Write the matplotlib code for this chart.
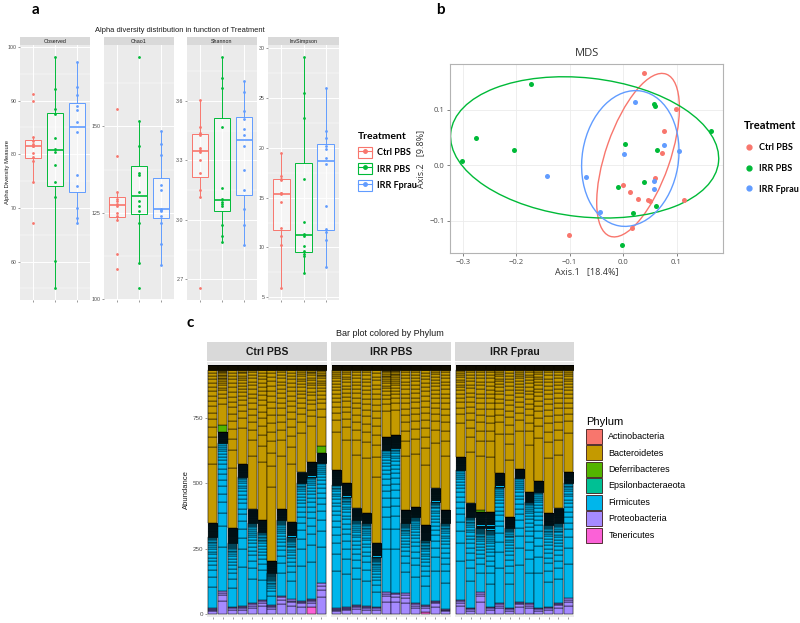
import numpy as np
import matplotlib
matplotlib.use("Agg")
import matplotlib.pyplot as plt
from matplotlib.patches import Ellipse, Rectangle, Patch
from matplotlib.lines import Line2D
from matplotlib.legend_handler import HandlerTuple
from matplotlib.ticker import AutoMinorLocator

plt.rcParams["font.family"] = ["Liberation Sans", "DejaVu Sans"]

GROUPS = ["Ctrl PBS", "IRR PBS", "IRR Fprau"]
GROUP_COLORS = ["#F8766D", "#00BA38", "#619CFF"]

# ---- panel a: alpha diversity per mouse (Ctrl PBS, IRR PBS, IRR Fprau)
MEASURES = ["Observed", "Chao1", "Shannon", "InvSimpson"]
observed = [
    [91.2, 90.0, 83.3, 82.5, 82.0, 81.6, 81.6, 80.2, 79.5, 78.8, 74.9, 67.1],
    [98.2, 92.1, 88.5, 87.5, 83.1, 81.0, 80.5, 78.0, 74.9, 72.0, 60.1, 55.0],
    [97.2, 92.5, 91.1, 89.0, 88.3, 86.1, 84.1, 76.1, 74.0, 70.0, 68.1, 67.1],
]
chao1 = [
    [154.9, 141.5, 131.0, 128.9, 128.5, 127.5, 127.0, 125.0, 124.2, 123.0, 113.0, 108.6],
    [170.2, 151.5, 144.2, 136.5, 136.0, 131.0, 128.5, 127.0, 125.6, 122.0, 110.5, 103.1],
    [148.8, 145.0, 141.8, 133.0, 131.5, 126.2, 125.8, 125.5, 124.0, 122.0, 115.9, 110.0],
]
shannon = [
    [3.605, 3.466, 3.44, 3.43, 3.36, 3.35, 3.34, 3.30, 3.237, 3.153, 3.115, 2.655],
    [3.823, 3.714, 3.664, 3.466, 3.161, 3.106, 3.09, 3.08, 3.068, 2.972, 2.918, 2.888],
    [3.701, 3.647, 3.547, 3.51, 3.46, 3.43, 3.375, 3.253, 3.149, 3.055, 2.977, 2.876],
]
invsimpson = [
    [19.47, 17.13, 16.9, 16.8, 15.5, 15.45, 15.35, 14.53, 11.97, 11.13, 10.23, 5.9],
    [29.13, 25.53, 22.97, 16.9, 12.53, 11.4, 11.2, 10.13, 9.6, 9.3, 9.13, 7.47],
    [25.97, 21.7, 21.0, 20.13, 19.9, 19.0, 18.4, 14.2, 11.87, 11.6, 10.8, 8.07],
]
ALPHA = [observed, chao1, shannon, invsimpson]
ALPHA_TICKS = [[60, 70, 80, 90, 100], [100, 125, 150], [2.7, 3.0, 3.3, 3.6],
               [5, 10, 15, 20, 25, 30]]

# ---- panel b: MDS coordinates
ctrl_x = [0.040, 0.099, 0.076, 0.073, 0.059, -0.001, 0.013, 0.027, 0.047, 0.050, 0.016, -0.102, 0.114]
ctrl_y = [0.166, 0.101, 0.062, 0.022, -0.023, -0.035, -0.049, -0.061, -0.062, -0.065, -0.113, -0.125, -0.062]
irr_x = [-0.172, -0.276, -0.204, -0.301, 0.058, 0.059, 0.004, 0.064, 0.164, 0.039, -0.010, 0.019, 0.061, -0.002]
irr_y = [0.146, 0.049, 0.027, 0.007, 0.110, 0.106, 0.038, 0.028, 0.061, -0.030, -0.040, -0.086, -0.073, -0.143]
fprau_x = [0.022, -0.142, -0.070, 0.002, 0.076, 0.104, 0.058, 0.058, -0.043]
fprau_y = [0.114, -0.020, -0.021, 0.020, 0.036, 0.025, -0.028, -0.042, -0.084]
MDS_X = [ctrl_x, irr_x, fprau_x]
MDS_Y = [ctrl_y, irr_y, fprau_y]
# 95% ellipses per group (centre, full axes, angle in degrees)
ell_cx = [0.028, -0.072, 0.0135]
ell_cy = [0.018, 0.032, 0.012]
ell_w = [0.31, 0.504, 0.246]
ell_h = [0.12, 0.25, 0.18]
ell_angle = [70, -6, 80]

# ---- panel c: phylum abundance per sample (12 mice per group)
DEPTH = 950
proteo = [
    [23, 90, 29, 32, 42, 55, 36, 70, 57, 52, 30, 118],
    [23, 27, 36, 32, 29, 86, 83, 80, 42, 28, 52, 20],
    [55, 25, 86, 30, 42, 25, 48, 42, 25, 30, 45, 61],
]
teneric = [
    [0, 0, 0, 0, 0, 0, 0, 0, 0, 0, 28, 0],
    [0, 0, 0, 0, 0, 0, 0, 0, 0, 8, 0, 0],
    [0, 0, 0, 0, 0, 0, 0, 0, 0, 0, 0, 0],
]
firmic = [
    [273, 562, 242, 493, 305, 260, 120, 290, 239, 448, 467, 458],
    [470, 422, 324, 315, 191, 541, 550, 267, 330, 247, 378, 327],
    [495, 347, 242, 292, 445, 303, 471, 388, 443, 311, 302, 439],
]
firmic_rare = [
    [51, 45, 57, 47, 53, 45, 49, 42, 55, 41, 57, 38],
    [57, 51, 44, 38, 51, 51, 51, 51, 38, 58, 50, 51],
    [51, 51, 64, 70, 51, 44, 34, 38, 42, 47, 57, 44],
]
deferri = [
    [0, 25, 0, 0, 0, 0, 0, 0, 0, 0, 0, 26],
    [0, 0, 0, 0, 0, 0, 0, 0, 0, 0, 0, 0],
    [0, 0, 6, 0, 0, 0, 0, 0, 0, 0, 0, 0],
]
BACT_RARE = 18
# relative OTU sizes inside a phylum, largest first (stacked bottom -> top)
PROT_SHARES = [55, 25, 12, 8]
FIRM_SHARES = [30, 14, 9, 7, 6, 5, 4.5, 4, 3.5, 3, 2.7, 2.4, 2.1, 1.8, 1.6, 1.4, 1.2, 1.0]
BACT_SHARES = [38, 11, 7, 6, 5, 4.5, 4, 3.5, 3.2, 3.0, 2.8, 2.6, 2.4, 2.2, 2.0, 1.8]
RARE_SHARES = [2.5, 2.2, 2.0, 1.8, 1.6, 1.5, 1.4, 1.3, 1.2, 1.1, 1.0, 1.0, 0.9,
               0.9, 0.8, 0.8, 0.7, 0.7, 0.6, 0.6, 0.5, 0.5, 0.5, 0.4, 0.4, 0.4,
               0.3, 0.3, 0.3, 0.3]
PHYLA = ["Actinobacteria", "Bacteroidetes", "Deferribacteres", "Epsilonbacteraeota",
         "Firmicutes", "Proteobacteria", "Tenericutes"]
PHYLA_COLORS = ["#F8766D", "#C49A00", "#53B400", "#00C094", "#00B6EB", "#A58AFF", "#FB61D7"]
PC = dict(zip(PHYLA, PHYLA_COLORS))

W, H = 800, 623
fig = plt.figure(figsize=(W / 100, H / 100), dpi=100)
fig.patch.set_facecolor("white")


def px_axes(x0, y0, x1, y1):
    return fig.add_axes([x0 / W, 1 - y1 / H, (x1 - x0) / W, (y1 - y0) / H])


def strip(x0, y0, x1, y1, label, size, weight="normal"):
    s = px_axes(x0, y0, x1, y1)
    s.set_facecolor("#D9D9D9")
    s.set_xticks([]); s.set_yticks([])
    for sp in s.spines.values():
        sp.set_visible(False)
    s.text(0.5, 0.45, label, ha="center", va="center", fontsize=size,
           fontweight=weight, color="#1A1A1A", transform=s.transAxes)


# ================= panel a
facets_x = [(20, 90), (104, 174), (187, 257), (268, 339)]
for k, (x0, x1) in enumerate(facets_x):
    ax = px_axes(x0, 45, x1, 300)
    ax.set_facecolor("#EBEBEB")
    data = ALPHA[k]
    bp = ax.boxplot(data, positions=[1, 2, 3], widths=0.75, patch_artist=True,
                    showfliers=False, showcaps=False, zorder=2)
    for g in range(3):
        c = GROUP_COLORS[g]
        bp["boxes"][g].set(facecolor=(1, 1, 1, 0.55), edgecolor=c, linewidth=0.7)
        bp["medians"][g].set(color=c, linewidth=1.2)
        for wl in bp["whiskers"][2 * g:2 * g + 2]:
            wl.set(color=c, linewidth=0.7)
        ax.scatter(np.full(len(data[g]), g + 1), data[g], s=4, color=c,
                   zorder=3, linewidths=0)
    allv = np.concatenate([np.asarray(d) for d in data])
    lo, hi = allv.min(), allv.max()
    pad = 0.05 * (hi - lo)
    ax.set_ylim(lo - pad, hi + pad)
    ax.set_xlim(0.4, 3.6)
    ax.set_yticks(ALPHA_TICKS[k])
    ax.yaxis.set_minor_locator(AutoMinorLocator(2))
    ax.set_xticks([1, 2, 3])
    ax.set_xticklabels(["", "", ""])
    ax.grid(True, which="major", color="white", linewidth=0.7, zorder=0)
    ax.grid(True, which="minor", axis="y", color="white", linewidth=0.35, zorder=0)
    ax.set_axisbelow(True)
    for sp in ax.spines.values():
        sp.set_visible(False)
    ax.tick_params(axis="both", which="major", labelsize=3.8, colors="#4D4D4D",
                   length=1.5, width=0.4, pad=1)
    ax.tick_params(axis="both", which="minor", length=0)
    strip(x0, 37, x1, 45, MEASURES[k], 3.8)

fig.text(180 / W, 1 - 30 / H, "Alpha diversity distribution in function of Treatment",
         ha="center", va="center", fontsize=5.4, color="#1A1A1A")
fig.text(8 / W, 1 - 172 / H, "Alpha Diversity Measure", rotation=90,
         ha="center", va="center", fontsize=4.2, color="#1A1A1A")

handles_a = [(Rectangle((0, 0), 1, 1, facecolor="white", edgecolor=c, linewidth=0.8),
              Line2D([], [], color=c, marker="o", markersize=2.5, linewidth=0.8))
             for c in GROUP_COLORS]
leg_a = fig.legend(handles_a, GROUPS, loc="upper left",
                   bbox_to_anchor=(352 / W, 1 - 126 / H), frameon=False,
                   title="Treatment", handler_map={tuple: HandlerTuple(ndivide=1)},
                   prop={"family": ["Lato", "DejaVu Sans"], "weight": "bold", "size": 6.5},
                   handlelength=1.5, handleheight=1.5, labelspacing=0.6,
                   handletextpad=0.6, borderpad=0.2)
leg_a.get_title().set_fontproperties({"family": ["Lato", "DejaVu Sans"],
                                      "weight": "bold", "size": 7.5})
leg_a._legend_box.align = "left"

# ================= panel b
axb = px_axes(450, 64, 723, 253)
for g in range(3):
    axb.scatter(MDS_X[g], MDS_Y[g], s=13, color=GROUP_COLORS[g], zorder=3,
                linewidths=0)
    axb.add_patch(Ellipse((ell_cx[g], ell_cy[g]), ell_w[g], ell_h[g],
                          angle=ell_angle[g], fill=False,
                          edgecolor=GROUP_COLORS[g], linewidth=1.0, zorder=2))
axb.set_xlim(-0.324, 0.187)
axb.set_ylim(-0.158, 0.182)
axb.set_xticks([-0.3, -0.2, -0.1, 0.0, 0.1])
axb.set_yticks([-0.1, 0.0, 0.1])
axb.grid(True, color="#EBEBEB", linewidth=0.6)
axb.set_axisbelow(True)
for sp in axb.spines.values():
    sp.set_color("#B3B3B3")
    sp.set_linewidth(0.8)
axb.tick_params(labelsize=5.5, colors="#4D4D4D", length=2, width=0.5, pad=2)
for lab in axb.get_xticklabels() + axb.get_yticklabels():
    lab.set_family(["Open Sans", "DejaVu Sans"])
axb.set_xlabel("Axis.1   [18.4%]", fontsize=6.5, color="#333333", labelpad=1,
               family=["Open Sans", "DejaVu Sans"])
axb.set_ylabel("Axis.2   [9.8%]", fontsize=6.5, color="#333333", labelpad=3,
               family=["Open Sans", "DejaVu Sans"])
axb.set_title("MDS", fontsize=8, color="#333333", pad=6,
              family=["Open Sans", "DejaVu Sans"])

handles_b = [Line2D([], [], color=c, marker="o", markersize=3.5, linewidth=0)
             for c in GROUP_COLORS]
leg_b = fig.legend(handles_b, GROUPS, loc="upper left",
                   bbox_to_anchor=(738 / W, 1 - 114 / H), frameon=False,
                   title="Treatment",
                   prop={"family": ["Lato", "DejaVu Sans"], "weight": "bold", "size": 6.5},
                   handlelength=1.0, labelspacing=1.3, handletextpad=0.6,
                   borderpad=0.2)
leg_b.get_title().set_fontproperties({"family": ["Lato", "DejaVu Sans"],
                                      "weight": "bold", "size": 8})
leg_b._legend_box.align = "left"

# ================= panel c
facets_c = [(207, 327), (331, 451), (455, 574)]


def shares(total, rel):
    rel = np.asarray(rel, float)
    return list(total * rel / rel.sum())


for g, (x0, x1) in enumerate(facets_c):
    ax = px_axes(x0, 362, x1, 617)
    ax.set_facecolor("#EBEBEB")
    for i in range(12):
        segs = []  # (height, colour, edge width)
        if teneric[g][i] > 0:
            segs.append((teneric[g][i], PC["Tenericutes"], 0.35))
        segs += [(h, PC["Proteobacteria"], 0.35) for h in shares(proteo[g][i], PROT_SHARES)]
        segs += [(h, PC["Firmicutes"], 0.35) for h in shares(firmic[g][i], FIRM_SHARES)]
        segs += [(h, PC["Firmicutes"], 0.6) for h in shares(firmic_rare[g][i], RARE_SHARES)]
        if deferri[g][i] > 0:
            segs.append((deferri[g][i], PC["Deferribacteres"], 0.35))
        bact = (DEPTH - teneric[g][i] - proteo[g][i] - firmic[g][i]
                - firmic_rare[g][i] - deferri[g][i] - BACT_RARE)
        segs += [(h, PC["Bacteroidetes"], 0.35) for h in shares(bact, BACT_SHARES)]
        segs += [(h, PC["Bacteroidetes"], 0.6) for h in shares(BACT_RARE, RARE_SHARES)]
        heights = np.array([s[0] for s in segs])
        bottoms = np.concatenate([[0], np.cumsum(heights)[:-1]])
        ax.bar(np.full(len(segs), i + 1), heights, bottom=bottoms, width=0.9,
               color=[s[1] for s in segs], edgecolor="black",
               linewidth=[s[2] for s in segs])
    ax.set_xlim(0.4, 12.6)
    ax.set_ylim(-10, 962)
    ax.set_xticks(range(1, 13))
    ax.set_xticklabels([""] * 12)
    for sp in ax.spines.values():
        sp.set_visible(False)
    ax.tick_params(axis="x", length=1.5, width=0.4, colors="#4D4D4D")
    if g == 0:
        ax.set_yticks([0, 250, 500, 750])
        ax.tick_params(axis="y", labelsize=4.5, colors="#4D4D4D", length=1.5,
                       width=0.4, pad=1)
        ax.set_ylabel("Abundance", fontsize=5.5, color="#1A1A1A", labelpad=2)
    else:
        ax.set_yticks([])
    strip(x0, 342, x1, 361, GROUPS[g], 7.5, weight="bold")

fig.text(390 / W, 1 - 334 / H, "Bar plot colored by Phylum", ha="center",
         va="center", fontsize=6.5, color="#1A1A1A")

handles_c = [Patch(facecolor=c, edgecolor="#3A1A1A", linewidth=0.6) for c in PHYLA_COLORS]
leg_c = fig.legend(handles_c, PHYLA, loc="upper left",
                   bbox_to_anchor=(580 / W, 1 - 411 / H), frameon=False,
                   title="Phylum", prop={"size": 6.5},
                   handlelength=1.75, handleheight=2.2, labelspacing=0.15,
                   handletextpad=0.7, borderpad=0.2)
leg_c.get_title().set_fontsize(8)
leg_c._legend_box.align = "left"

# panel letters
for lx, ly, lab in [(35, 10, "a"), (440, 10, "b"), (190, 323, "c")]:
    fig.text(lx / W, 1 - ly / H, lab, ha="center", va="center", fontsize=11,
             fontweight="bold", family=["Lato", "DejaVu Sans"])

fig.savefig("out.png", dpi=100, facecolor="white")
